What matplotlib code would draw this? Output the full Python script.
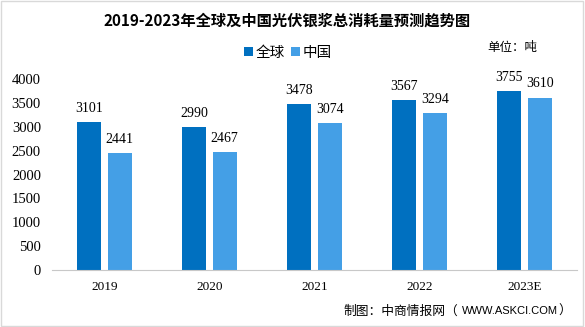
import matplotlib
matplotlib.use("Agg")
import matplotlib.pyplot as plt
import numpy as np
from matplotlib.patches import Rectangle

years = ["2019", "2020", "2021", "2022", "2023E"]
global_vals = [3101, 2990, 3478, 3567, 3755]
china_vals = [2441, 2467, 3074, 3294, 3610]
series_names = ["全球", "中国"]

CJK = ["Noto Sans CJK SC", "DejaVu Sans"]
NUM = ["Liberation Serif", "DejaVu Serif"]
LAT = ["Liberation Sans", "DejaVu Sans"]
c_global = "#0070C0"
c_china = "#449FE6"

W, H = 585, 327
fig = plt.figure(figsize=(W / 100, H / 100), dpi=100)
ax = fig.add_axes([52 / W, 1 - 270 / H, 525 / W, (270 - 79) / H])

x = np.arange(len(years))
w = 0.23
off = 0.145
b1 = ax.bar(x - off, global_vals, w, color=c_global, label=series_names[0])
b2 = ax.bar(x + off, china_vals, w, color=c_china, label=series_names[1])

for bars, vals in ((b1, global_vals), (b2, china_vals)):
    for r, v in zip(bars, vals):
        ax.text(r.get_x() + r.get_width() / 2, v + 150, str(v),
                ha="center", va="bottom", fontsize=10, family=NUM)

ax.set_xlim(-0.5, len(years) - 0.5)
ax.set_ylim(0, 4000)
ax.set_yticks(np.arange(0, 4001, 500))
ax.set_xticks(x)
ax.set_xticklabels(years, family=NUM, fontsize=9.5)
for t in ax.get_yticklabels():
    t.set_family(NUM)
    t.set_fontsize(10.5)
ax.tick_params(axis="both", length=0, pad=8)
for s in ("top", "right", "left"):
    ax.spines[s].set_visible(False)
ax.spines["bottom"].set_color("#C8C8C8")

fig.text(287 / W, 1 - 21 / H, "2019-2023年全球及中国光伏银浆总消耗量预测趋势图",
         ha="center", va="center", fontsize=11, fontweight="bold", family=CJK)
leg = fig.legend(handles=[b1, b2], loc="center", bbox_to_anchor=(288 / W, 1 - 53 / H),
                 ncol=2, frameon=False, prop={"family": CJK, "size": 10.5},
                 handlelength=0.6, handleheight=0.6, handletextpad=0.2, columnspacing=0.4)
fig.text(537 / W, 1 - 48 / H, "单位：吨", ha="right", va="center",
         fontsize=9, family=CJK)

# source line: CJK part, Latin URL, closing bracket
src_y = 1 - 311 / H
fig.text(343 / W, src_y, "制图：中商情报网（", ha="left", va="center",
         fontsize=9.2, family=CJK)
fig.text(462 / W, src_y, "WWW.ASKCI.COM", ha="left", va="center",
         fontsize=8, family=LAT)
fig.text(571 / W, src_y, "）", ha="right", va="center", fontsize=9.2, family=CJK)

fig.patches.append(Rectangle((0.002, 0.003), 0.994, 0.994, transform=fig.transFigure,
                             fill=False, edgecolor="#D9D9D9", linewidth=1))

fig.savefig("out.png", dpi=100)
